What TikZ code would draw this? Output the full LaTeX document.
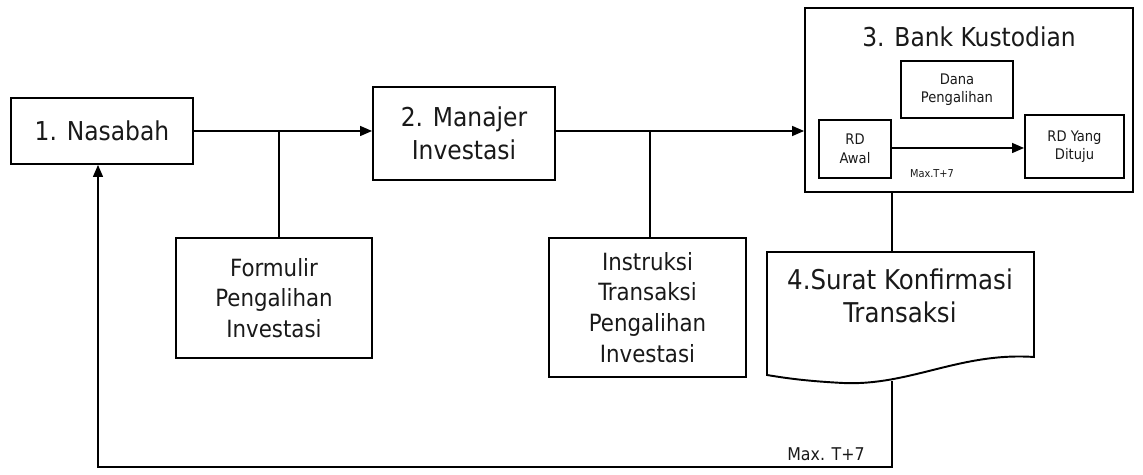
\documentclass[tikz,border=0pt]{standalone}
\usepackage{fontspec}
\setmainfont{DejaVu Sans Condensed}
\usetikzlibrary{arrows.meta}
\begin{document}
\begin{tikzpicture}[x=0.02cm,y=-0.02cm,
  box/.style={draw, line width=1.1pt, inner sep=0pt, align=center, text=black!90},
  conn/.style={line width=0.8pt},
  arr/.style={conn, -{Triangle[length=0.24cm,width=0.2cm]}},
  big/.style={font=\fontsize{14.8}{17}\selectfont},
  mid/.style={font=\fontsize{13.5}{17.5}\selectfont},
  small/.style={font=\fontsize{8.3}{10.5}\selectfont},
  tiny/.style={font=\fontsize{6.2}{7}\selectfont}]
\useasboundingbox (0,0) rectangle (1143,475);
% main boxes
\node[box, big, minimum width=3.64cm, minimum height=1.32cm] (nas) at (102,131) {1. Nasabah};
\node[box, minimum width=3.64cm, minimum height=1.86cm, font=\fontsize{14.8}{19}\selectfont] (man) at (464,133.5) {2. Manajer\\Investasi};
\node[box, mid, minimum width=3.92cm, minimum height=2.4cm] (form) at (274,298) {Formulir\\Pengalihan\\Investasi};
\node[box, mid, minimum width=3.94cm, minimum height=2.78cm] (ins) at (647.5,307.5) {Instruksi\\Transaksi\\Pengalihan\\Investasi};
% bank
\node[box, minimum width=6.56cm, minimum height=3.68cm] (bank) at (969,100) {};
\node[big, text=black!90] (title) at (969,37) {3. Bank Kustodian};
\node[box, small, minimum width=2.24cm, minimum height=1.14cm] (dana) at (957,89.5) {Dana\\Pengalihan};
\node[box, small, minimum width=1.44cm, minimum height=1.16cm] (awal) at (855,149) {RD\\Awal};
\node[box, small, minimum width=1.98cm, minimum height=1.26cm] (tuju) at (1074.5,146.5) {RD Yang\\Dituju};
\node[tiny, text=black!90] (lab1) at (932,174) {Max.T+7};
\draw[arr] (awal.east |- 0,148) -- (tuju.west |- 0,148);
% document
\draw[line width=1.1pt] (767,252) -- (1034,252) -- (1034,357)
  .. controls (960,352) and (910,386) .. (843,383)
  .. controls (805,381) and (785,378) .. (767,375) -- cycle;
\node[font=\fontsize{15.5}{18.5}\selectfont, align=center, text=black!90] (doc) at (900,296) {4.Surat Konfirmasi\\Transaksi};
\coordinate (doctop) at (892,252);
\coordinate (docbot) at (892,381);
% connectors
\draw[arr] (nas.east) -- (nas.east -| man.west);
\draw[arr] (nas.east -| man.east) -- (nas.east -| bank.west);
\coordinate (j1) at (279,131);
\draw[conn] (j1) -- (j1 |- form.north);
\coordinate (j2) at (650,131);
\draw[conn] (j2) -- (j2 |- ins.north);
\draw[conn] (doctop |- bank.south) -- (doctop);
\coordinate (j3) at (98,467);
\draw[arr] (docbot) |- (j3) -- (j3 |- nas.south);
\node[font=\fontsize{10}{12}\selectfont, text=black!90] (lab2) at (826,454) {Max. T+7};
\end{tikzpicture}
\end{document}
